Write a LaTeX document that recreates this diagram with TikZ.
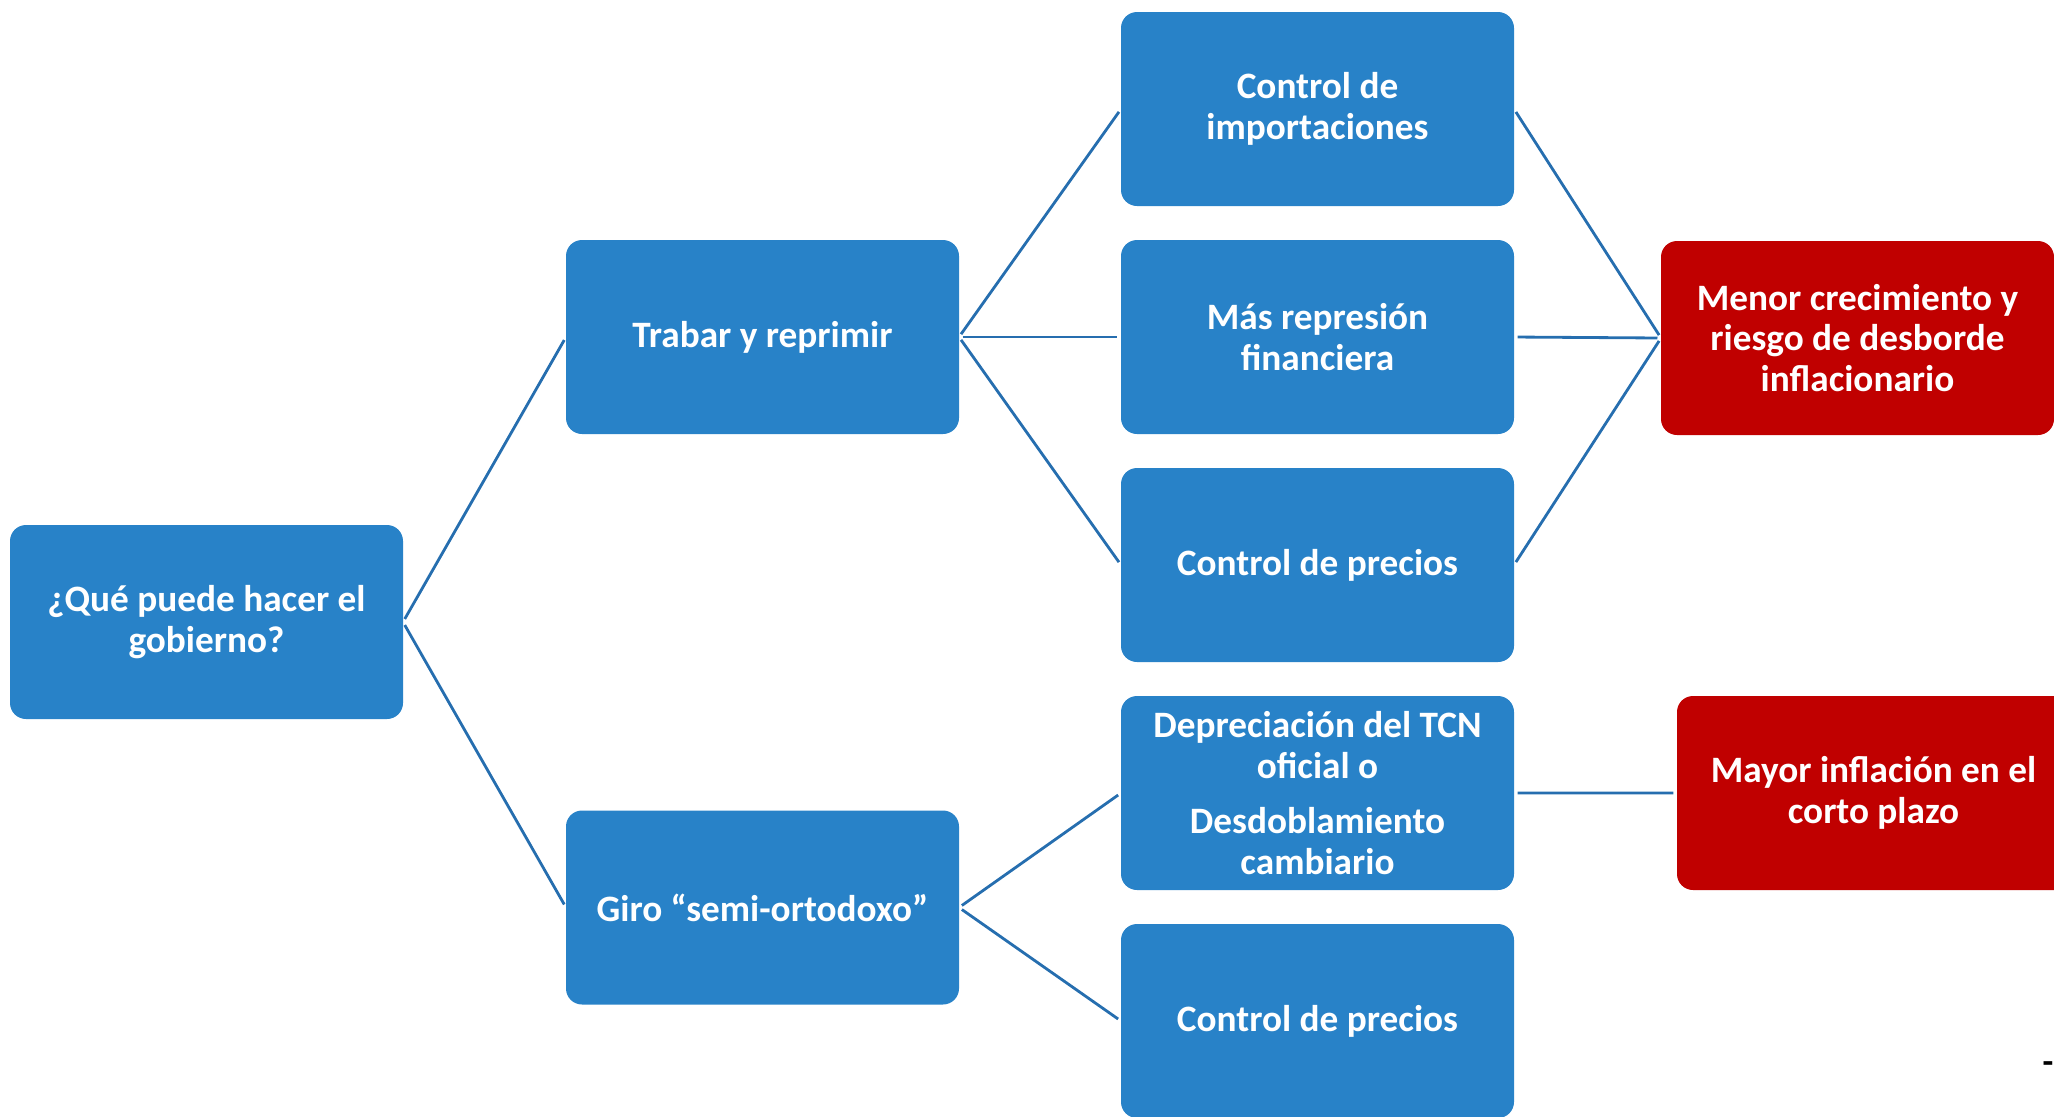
\documentclass[tikz,border=0pt]{standalone}
\usepackage{fontspec}
\setmainfont{Carlito}
\usepackage{xcolor}
\usepackage{tikz}
\usetikzlibrary{positioning}
\definecolor{boxblue}{RGB}{40,130,200}
\definecolor{boxred}{RGB}{192,0,0}
\definecolor{lineblue}{RGB}{38,110,175}
\tikzstyle{opcion} = [rectangle, rounded corners=0.16cm, minimum width=3.93cm, minimum height=1.94cm, align=center, inner sep=0pt, outer sep=0pt, fill=boxblue, text=white, font=\bfseries\fontsize{10.6}{11.6}\selectfont]
\tikzstyle{efecto} = [opcion, fill=boxred]
\tikzstyle{rama} = [draw=lineblue, line width=0.8pt, shorten >=1pt, shorten <=1pt]

\begin{document}
\begin{tikzpicture}
  \useasboundingbox (0,0) rectangle (20.54,-11.16);

  \node[opcion] (pregunta) at (2.065,-6.22) {¿Qué puede hacer el\\ gobierno?};
  \node[opcion] (trabar) at (7.625,-3.37) {Trabar y reprimir};
  \node[opcion] (giro) at (7.625,-9.075) {Giro “semi-ortodoxo”};

  % tercera columna
  \node[opcion] (import) at (13.175,-1.09) {Control de\\ importaciones};
  \node[opcion, below=0.34cm of import] (repres) {Más represión\\ financiera};
  \node[opcion, below=0.34cm of repres] (precios-1) {Control de precios};
  \node[opcion, below=0.34cm of precios-1] (deprec) {Depreciación del TCN\\ oficial o\\[0.15cm] Desdoblamiento\\ cambiario};
  \node[opcion, below=0.34cm of deprec] (precios-2) {Control de precios};

  \node[efecto] (menor) at (18.575,-3.38) {Menor crecimiento y\\ riesgo de desborde\\ inflacionario};
  \node[efecto] (mayor) at (18.735,-7.93) {Mayor inflación en el\\ corto plazo};

  \node[anchor=east, inner sep=0pt, font=\bfseries] (guion) at (20.54,-10.68) {-};

  \draw[rama] (pregunta.east) -- (trabar.west);
  \draw[rama] (pregunta.east) -- (giro.west);
  \draw[rama] (trabar.east) -- (import.west);
  \draw[rama] (trabar.east) -- (repres.west);
  \draw[rama] (trabar.east) -- (precios-1.west);
  \draw[rama] (giro.east) -- (deprec.west);
  \draw[rama] (giro.east) -- (precios-2.west);
  \draw[rama] (import.east) -- (menor.west);
  \draw[rama] (repres.east) -- (menor.west);
  \draw[rama] (precios-1.east) -- (menor.west);
  \draw[rama] (deprec.east) -- (mayor.west);
\end{tikzpicture}
\end{document}
